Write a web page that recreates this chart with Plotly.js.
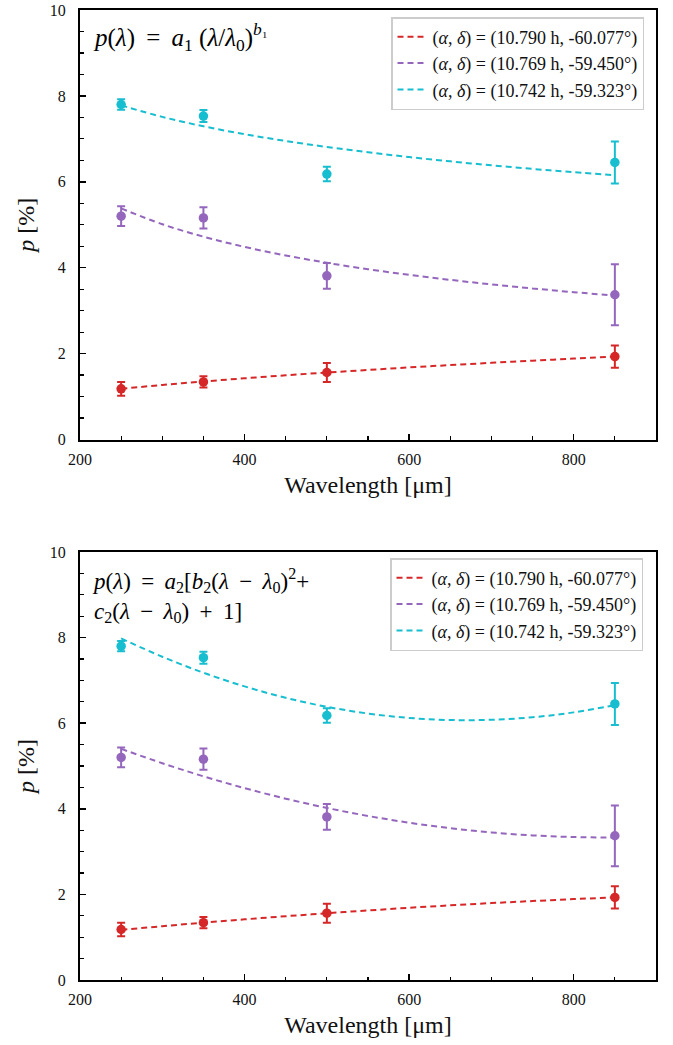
<!DOCTYPE html>
<html>
<head>
<meta charset="utf-8">
<script src="https://cdn.plot.ly/plotly-3.0.1.min.js"></script>
<style>html,body{margin:0;padding:0;background:#fff;}#chart{width:673px;height:1045px;}</style>
</head>
<body>
<div id="chart"></div>
<script>
// ---- data ----
const wavelengths = [250, 350, 500, 850];
const seriesNames = [
  "(<i>α</i>, <i>δ</i>) = (10.790 h, -60.077°)",
  "(<i>α</i>, <i>δ</i>) = (10.769 h, -59.450°)",
  "(<i>α</i>, <i>δ</i>) = (10.742 h, -59.323°)"
];
const pRed = [1.18, 1.34, 1.56, 1.93];
const pRedErr = [0.16, 0.13, 0.22, 0.26];
const pPurple = [5.20, 5.16, 3.81, 3.37];
const pPurpleErr = [0.23, 0.25, 0.30, 0.71];
const pCyan = [7.80, 7.53, 6.18, 6.45];
const pCyanErr = [0.12, 0.14, 0.17, 0.49];

// fit curves
const fitX = [250, 300, 350, 400, 450, 500, 550, 600, 650, 700, 750, 800, 850];
const fit1Red = [1.180, 1.270, 1.351, 1.425, 1.495, 1.559, 1.620, 1.678, 1.733, 1.785, 1.835, 1.884, 1.930];
const fit1Purple = [5.380, 5.013, 4.723, 4.485, 4.285, 4.114, 3.965, 3.834, 3.717, 3.612, 3.517, 3.430, 3.350];
const fit1Cyan = [7.780, 7.512, 7.293, 7.109, 6.950, 6.811, 6.687, 6.576, 6.476, 6.384, 6.300, 6.223, 6.151];
const fit2Red = [1.170, 1.256, 1.339, 1.417, 1.490, 1.560, 1.625, 1.687, 1.744, 1.797, 1.845, 1.890, 1.930];
const fit2Purple = [5.400, 5.065, 4.759, 4.483, 4.237, 4.020, 3.833, 3.675, 3.547, 3.448, 3.379, 3.340, 3.330];
const fit2Cyan = [7.980, 7.553, 7.179, 6.860, 6.594, 6.383, 6.226, 6.123, 6.074, 6.080, 6.139, 6.253, 6.421];

const xTickVals = [200, 400, 600, 800];
const yTickVals = [0, 2, 4, 6, 8, 10];
const colors = ["#d62728", "#9467bd", "#17becf"];

const formula1 = "<i>p</i>(<i>λ</i>)\u2009 = \u2009<i>a</i><sub>1</sub> (<i>λ</i>/<i>λ</i><sub>0</sub>)<sup><i>b</i>₁</sup>";
const formula2 = "<i>p</i>(<i>λ</i>)\u2009 = \u2009<i>a</i><sub>2</sub>[<i>b</i><sub>2</sub>(<i>λ</i>\u2009 − \u2009<i>λ</i><sub>0</sub>)<sup>2</sup>+" +
  "<br><i>c</i><sub>2</sub>(<i>λ</i>\u2009 − \u2009<i>λ</i><sub>0</sub>)\u2009 + \u20091]";

// ---- traces ----
const FONT = "Liberation Serif";
const pts = [pRed, pPurple, pCyan];
const errs = [pRedErr, pPurpleErr, pCyanErr];
const fits1 = [fit1Red, fit1Purple, fit1Cyan];
const fits2 = [fit2Red, fit2Purple, fit2Cyan];

const traces = [];
[["x", "y", fits1, "legend"], ["x2", "y2", fits2, "legend2"]].forEach(([xa, ya, fits, lg]) => {
  for (let i = 0; i < 3; i++) {
    traces.push({
      x: wavelengths, y: pts[i], xaxis: xa, yaxis: ya, type: "scatter", mode: "markers",
      marker: {color: colors[i], size: 9.5},
      error_y: {type: "data", array: errs[i], visible: true, color: colors[i], thickness: 2, width: 4},
      showlegend: false, hoverinfo: "skip"
    });
  }
  for (let i = 0; i < 3; i++) {
    traces.push({
      x: fitX, y: fits[i], xaxis: xa, yaxis: ya, type: "scatter", mode: "lines",
      line: {color: colors[i], width: 2, dash: "6px,4px", shape: "spline"},
      name: seriesNames[i], legend: lg, showlegend: true
    });
  }
});

function xAxis(anchor) {
  return {
    domain: [80 / 673, 656 / 673], range: [200, 900], anchor: anchor,
    tickvals: xTickVals, ticks: "inside", ticklen: 6, tickwidth: 1.5, tickcolor: "#000",
    minor: {dtick: 50, tick0: 200, ticks: "inside", ticklen: 3.5, tickwidth: 1.2, tickcolor: "#000"},
    showline: true, linecolor: "#000", linewidth: 2, mirror: true, showgrid: false, zeroline: false,
    tickfont: {family: FONT, size: 16, color: "#111"}, ticklabelstandoff: 4,
    title: {text: "Wavelength [μm]", font: {family: FONT, size: 24, color: "#111"}, standoff: 9}
  };
}
function yAxis(anchor, dom) {
  return {
    domain: dom, range: [0, 10], anchor: anchor,
    tickvals: yTickVals, ticks: "inside", ticklen: 6, tickwidth: 1.5, tickcolor: "#000",
    minor: {dtick: 0.5, tick0: 0, ticks: "inside", ticklen: 3.5, tickwidth: 1.2, tickcolor: "#000"},
    showline: true, linecolor: "#000", linewidth: 2, mirror: true, showgrid: false, zeroline: false,
    tickfont: {family: FONT, size: 16, color: "#111"}, ticklabelstandoff: 9,
    title: {text: "<i>p</i> [%]", font: {family: FONT, size: 24, color: "#111"}, standoff: 8}
  };
}

const legendBase = {
  xanchor: "right", yanchor: "top", bgcolor: "#fff", bordercolor: "#cccccc", borderwidth: 1.5,
  font: {family: FONT, size: 18, color: "#111"}, itemwidth: 30, tracegroupgap: 0
};

function formulaNote(text, xpx, ypx, size) {
  return {xref: "paper", yref: "paper", x: xpx / 673, y: 1 - ypx / 1045, xanchor: "left", yanchor: "middle",
    showarrow: false, align: "left", font: {family: FONT, size: size, color: "#000"}, text: text};
}

const layout = {
  width: 673, height: 1045, paper_bgcolor: "#fff", plot_bgcolor: "#fff",
  font: {family: FONT, color: "#111"},
  margin: {l: 0, r: 0, t: 0, b: 0},
  xaxis: xAxis("y"), yaxis: yAxis("x", [1 - 439.5 / 1045, 1 - 10 / 1045]),
  xaxis2: xAxis("y2"), yaxis2: yAxis("x2", [1 - 980 / 1045, 1 - 552 / 1045]),
  legend: Object.assign({x: 644 / 673, y: 1 - 17 / 1045}, legendBase),
  legend2: Object.assign({x: 643 / 673, y: 1 - 558 / 1045}, legendBase),
  annotations: [
    formulaNote(formula1, 91, 37, 25),
    formulaNote(formula2, 90, 595, 23)
  ]
};

Plotly.newPlot("chart", traces, layout, {displayModeBar: false, staticPlot: true});
</script>
</body>
</html>
